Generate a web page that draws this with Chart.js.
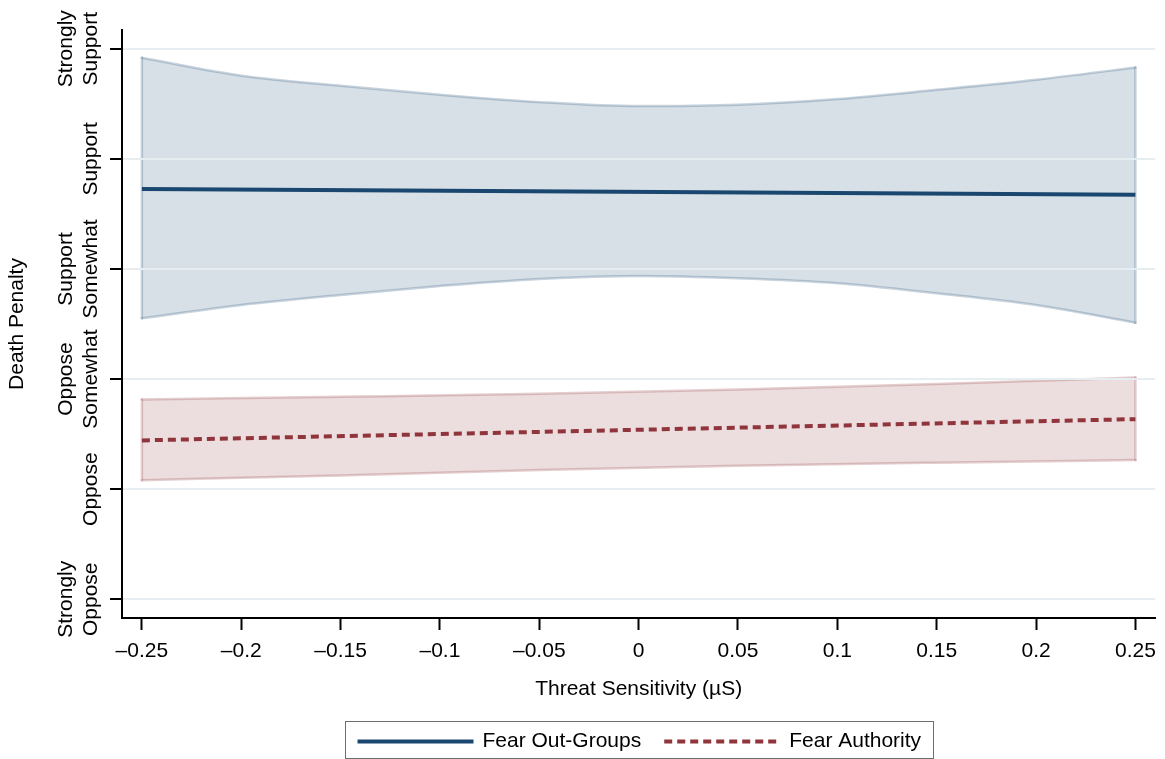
<!DOCTYPE html>
<html><head><meta charset="utf-8">
<script src="https://cdn.jsdelivr.net/npm/chart.js@4.4.1/dist/chart.umd.min.js"></script>
<style>html,body{margin:0;padding:0;background:#fff}#wrap{width:1165px;height:759px;position:relative}</style>
</head><body><div id="wrap"><canvas id="c" width="1165" height="759"></canvas></div>
<script>
// ---- data ----
const xTickValues = [-0.25, -0.2, -0.15, -0.1, -0.05, 0, 0.05, 0.1, 0.15, 0.2, 0.25];
const xTickLabels = ["\u20130.25", "\u20130.2", "\u20130.15", "\u20130.1", "\u20130.05", "0", "0.05", "0.1", "0.15", "0.2", "0.25"];
const yTickValues = [1, 2, 3, 4, 5, 6];
const yTickLabels = [["Strongly", "Oppose"], ["Oppose"], ["Oppose", "Somewhat"], ["Support", "Somewhat"], ["Support"], ["Strongly", "Support"]];

// Fear Out-Groups
const outX = [-0.25, -0.2, -0.15, -0.1, -0.05, 0, 0.05, 0.1, 0.15, 0.2, 0.25];
const outUpper = [5.918, 5.755, 5.664, 5.582, 5.515, 5.479, 5.491, 5.543, 5.627, 5.718, 5.830];
const outLower = [3.552, 3.673, 3.764, 3.845, 3.909, 3.936, 3.915, 3.870, 3.779, 3.673, 3.512];
const outLineX = [-0.25, 0.25];
const outLine = [4.727, 4.673];

// Fear Authority
const authX = [-0.25, -0.15, -0.05, 0.05, 0.15, 0.25];
const authUpper = [2.815, 2.839, 2.866, 2.905, 2.955, 3.015];
const authLower = [2.082, 2.125, 2.174, 2.213, 2.241, 2.264];
const authLineX = [-0.25, 0.25];
const authLine = [2.443, 2.636];

const seriesNames = ["Fear Out-Groups", "Fear Authority"];

// ---- build ----
const FONT = "'Liberation Sans', Arial, Helvetica, sans-serif";
const NAVY = '#1a476f', MAROON = '#90353b';
const BAND = {
  out: {fill: 'rgba(26,71,111,0.17)', edge: 'rgba(26,71,111,0.24)'},
  auth: {fill: 'rgba(144,53,59,0.17)', edge: 'rgba(144,53,59,0.24)'}
};

function pts(xs, ys) { return xs.map((x, i) => ({x: x, y: ys[i]})); }
const common = {pointRadius: 0, pointHoverRadius: 0, borderCapStyle: 'round', borderJoinStyle: 'round'};

function bandSets(xs, up, lo, st) {
  const n = xs.length - 1;
  return [
    Object.assign({label: '_up', data: pts(xs, up), fill: false, borderColor: st.edge, borderWidth: 2.5,
      cubicInterpolationMode: 'monotone', order: 3}, common),
    Object.assign({label: '_lo', data: pts(xs, lo), fill: '-1', backgroundColor: st.fill, borderColor: st.edge,
      borderWidth: 2.5, cubicInterpolationMode: 'monotone', order: 3}, common),
    Object.assign({label: '_l', data: pts([xs[0], xs[0]], [lo[0], up[0]]), fill: false, borderColor: st.edge,
      borderWidth: 2.5, order: 3}, common),
    Object.assign({label: '_r', data: pts([xs[n], xs[n]], [lo[n], up[n]]), fill: false, borderColor: st.edge,
      borderWidth: 2.5, order: 3}, common)
  ];
}

const yLabelPlugin = {
  id: 'yLabels',
  afterDraw(chart) {
    const c = chart.ctx, s = chart.scales.y;
    c.save();
    c.font = '21px ' + FONT;
    c.fillStyle = '#000';
    c.textAlign = 'center';
    c.textBaseline = 'middle';
    yTickValues.forEach((v, k) => {
      const py = s.getPixelForValue(v);
      const lines = yTickLabels[k];
      c.save();
      c.translate(91, py);
      c.rotate(-Math.PI / 2);
      lines.forEach((t, i) => c.fillText(t, 0, (i - (lines.length - 1)) * 25));
      c.restore();
    });
    c.restore();
  }
};

const legendPlugin = {
  id: 'customLegend',
  afterDraw(chart) {
    const c = chart.ctx, a = chart.chartArea;
    const find = name => chart.data.datasets.find(d => d.label === name);
    c.save();
    c.font = '21px ' + FONT;
    const items = [
      {ds: find(seriesNames[0]), text: seriesNames[0], sw: 116, gap: 9},
      {ds: find(seriesNames[1]), text: seriesNames[1], sw: 113, gap: 12}
    ];
    const pad = 12, between = 23;
    let total = pad * 2 + between;
    items.forEach(it => { it.tw = c.measureText(it.text).width; total += it.sw + it.gap + it.tw; });
    const cx = (a.left + a.right) / 2;
    const left = Math.round(cx - total / 2) + 0.5;
    const top = 721.5, h = 37;
    c.strokeStyle = '#6e6e6e';
    c.lineWidth = 1;
    c.strokeRect(left, top, Math.round(total), h);
    let x = left + pad;
    const yMid = 741.5;
    items.forEach(it => {
      c.beginPath();
      c.strokeStyle = it.ds.borderColor;
      c.lineWidth = it.ds.borderWidth;
      c.lineCap = 'butt';
      c.setLineDash(it.ds.borderDash || []);
      c.moveTo(x, yMid); c.lineTo(x + it.sw, yMid);
      c.stroke();
      c.setLineDash([]);
      x += it.sw + it.gap;
      c.fillStyle = '#000';
      c.textAlign = 'left';
      c.textBaseline = 'middle';
      c.fillText(it.text, x, yMid);
      x += it.tw + between;
    });
    c.restore();
  }
};

const datasets = [].concat(
  bandSets(outX, outUpper, outLower, BAND.out),
  bandSets(authX, authUpper, authLower, BAND.auth),
  [
    Object.assign({}, common, {label: seriesNames[0], data: pts(outLineX, outLine), fill: false,
      borderColor: NAVY, borderWidth: 4, borderCapStyle: 'butt', order: 1}),
    Object.assign({}, common, {label: seriesNames[1], data: pts(authLineX, authLine), fill: false,
      borderColor: MAROON, borderWidth: 4, borderDash: [8, 5], borderCapStyle: 'butt', order: 1})
  ]
);

new Chart(document.getElementById('c').getContext('2d'), {
  type: 'line',
  data: {datasets: datasets},
  options: {
    responsive: false,
    animation: false,
    layout: {padding: {left: 0, right: 8, top: 30, bottom: 53}},
    plugins: {legend: {display: false}, tooltip: {enabled: false}},
    scales: {
      x: {
        type: 'linear', min: -0.26, max: 0.26,
        afterBuildTicks: s => { s.ticks = xTickValues.map(v => ({value: v})); },
        ticks: {callback: (v, i) => xTickLabels[i], font: {family: FONT, size: 21}, color: '#000',
                padding: 9, maxRotation: 0, autoSkip: false},
        grid: {color: 'rgba(0,0,0,0)', drawTicks: true, tickLength: 12, tickColor: '#000', tickWidth: 2},
        border: {color: '#000', width: 2, z: 2},
        title: {display: true, text: 'Threat Sensitivity (\u00b5S)', font: {family: FONT, size: 21},
                color: '#000', padding: {top: 0, bottom: 4}},
        afterFit: s => { s.height = 88; }
      },
      y: {
        type: 'linear', min: 0.83, max: 6.17,
        afterBuildTicks: s => { s.ticks = yTickValues.map(v => ({value: v})); },
        ticks: {display: false},
        grid: {color: '#e6eef1', lineWidth: 2, z: 1, drawTicks: true, tickLength: 12, tickColor: '#000', tickWidth: 2},
        border: {color: '#000', width: 2, z: 2},
        title: {display: true, text: 'Death Penalty', font: {family: FONT, size: 21}, color: '#000',
                padding: {top: 5, bottom: 0}},
        afterFit: s => { s.width = 122; }
      }
    }
  },
  plugins: [yLabelPlugin, legendPlugin]
});
</script>
</body></html>
